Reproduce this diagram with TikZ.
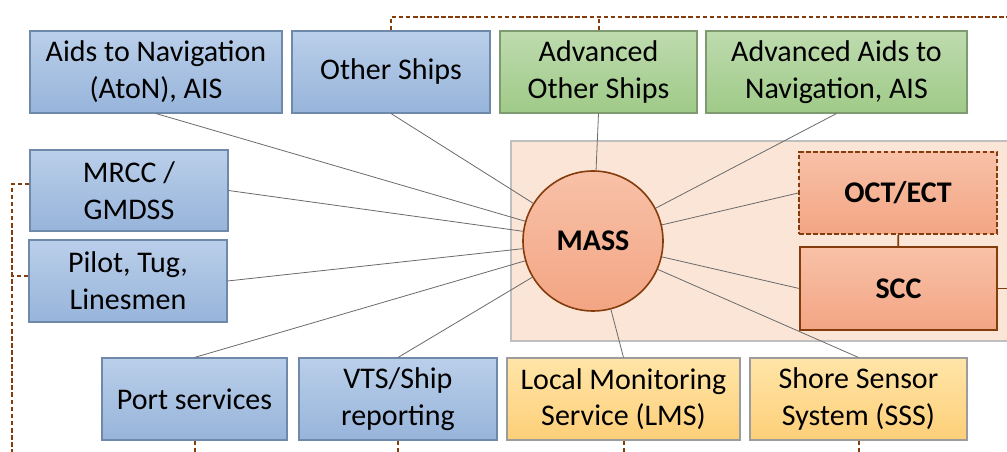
\documentclass[tikz,border=0pt]{standalone}
\usepackage{fontspec}
\setmainfont{Carlito}
\usetikzlibrary{positioning}
\usepackage{xcolor}

\definecolor{bluetop}{HTML}{BACFEA}
\definecolor{bluebot}{HTML}{97B4DA}
\definecolor{blueedge}{HTML}{6F89AA}
\definecolor{greentop}{HTML}{BEDBAE}
\definecolor{greenbot}{HTML}{9FCA88}
\definecolor{greenedge}{HTML}{7E9A70}
\definecolor{yellowtop}{HTML}{FFE5A8}
\definecolor{yellowbot}{HTML}{FDCF78}
\definecolor{yellowedge}{HTML}{9C9C9C}
\definecolor{salmontop}{HTML}{F8C1A8}
\definecolor{salmonbot}{HTML}{F3A583}
\definecolor{brownline}{HTML}{843C0C}
\definecolor{zonefill}{HTML}{FBE5D6}
\definecolor{spokegray}{HTML}{6A6A6A}

\tikzset{
  base/.style={draw, line width=0.8pt, inner sep=1pt, align=center,
    font=\fontsize{22.5}{27.5}\selectfont},
  boxsize/.style 2 args={minimum width=#1*0.75pt, minimum height=#2*0.75pt},
  bluebox/.style={base, draw=blueedge, top color=bluetop, bottom color=bluebot},
  greenbox/.style={base, draw=greenedge, top color=greentop, bottom color=greenbot},
  yellowbox/.style={base, draw=yellowedge, top color=yellowtop, bottom color=yellowbot},
  salmonbox/.style={base, draw=brownline, line width=1.2pt, top color=salmontop,
    bottom color=salmonbot, font=\fontsize{22.5}{27.5}\selectfont\bfseries},
  spoke/.style={draw=spokegray, line width=0.6pt},
  dashlink/.style={draw=brownline, line width=1.5pt, dash pattern=on 3.5pt off 1.8pt},
  brownlink/.style={draw=brownline, line width=1.2pt},
}

\begin{document}
\begin{tikzpicture}[x=0.75pt, y=-0.75pt]
  \useasboundingbox (0,0) rectangle (1007,452);

  % Shaded zone behind the ship and its control centres
  \node[draw=black!25, fill=zonefill, line width=0.8pt, boxsize={504}{200}] (zone) at (763,241) {};

  % Top row
  \node[bluebox, boxsize={252}{82}] (aton) at (156,72) {Aids to Navigation\\(AtoN), AIS};
  \node[bluebox, boxsize={198}{82}] (other) at (391,72) {Other Ships};
  \node[greenbox, boxsize={197}{82}] (advother) at (598.5,72) {Advanced\\Other Ships};
  \node[greenbox, boxsize={261}{82}] (advaton) at (836.5,72) {Advanced Aids to\\Navigation, AIS};

  % Left column
  \node[bluebox, boxsize={198}{81}] (mrcc) at (129,190.5) {MRCC /\\GMDSS};
  \node[bluebox, boxsize={198}{82}] (pilot) at (128,281) {Pilot, Tug,\\Linesmen};

  % Bottom row
  \node[bluebox, boxsize={185}{82}] (port) at (194.5,399) {Port services};
  \node[bluebox, boxsize={198}{82}] (vts) at (398,399) {VTS/Ship\\reporting};
  \node[yellowbox, boxsize={233}{82}] (lms) at (623.5,399) {Local Monitoring\\Service (LMS)};
  \node[yellowbox, boxsize={217}{82}] (sss) at (858.5,399) {Shore Sensor\\System (SSS)};

  % The ship and its control centres
  \node[salmonbox, circle, minimum size=140*0.75pt] (mass) at (593,241) {MASS};
  \node[salmonbox, dash pattern=on 3.5pt off 1.8pt, boxsize={198}{82}] (oct) at (898,193) {OCT/ECT};
  \node[salmonbox, boxsize={197}{83}] (scc) at (898.5,288.5) {SCC};

  % Spokes from every party to the ship
  \foreach \n/\a in {aton/south, other/south, advother/south, advaton/south,
                     mrcc/east, pilot/east, port/north, vts/north,
                     lms/north, sss/north, oct/west, scc/west}
    \draw[spoke] (\n.\a) -- (mass);

  \draw[brownlink] (oct) -- (scc);
  \coordinate (sccR) at (1007,288.5);
  \draw[brownlink] (scc.east) -- (sccR);

  % Dashed links running off the edges
  \coordinate (topR) at (1007,17);
  \coordinate (leftB) at (12,452);
  \draw[dashlink] (other.north) |- (topR);
  \draw[dashlink] (advother.north) -- (advother.north |- topR);
  \draw[dashlink] ([yshift=5pt]mrcc.west) -| (leftB);
  \draw[dashlink] ([yshift=4pt]pilot.west) -- ([yshift=4pt]pilot.west -| leftB);
  \foreach \n in {port, vts, lms, sss}
    \draw[dashlink] (\n.south) -- (\n.south |- leftB);

\end{tikzpicture}
\end{document}
